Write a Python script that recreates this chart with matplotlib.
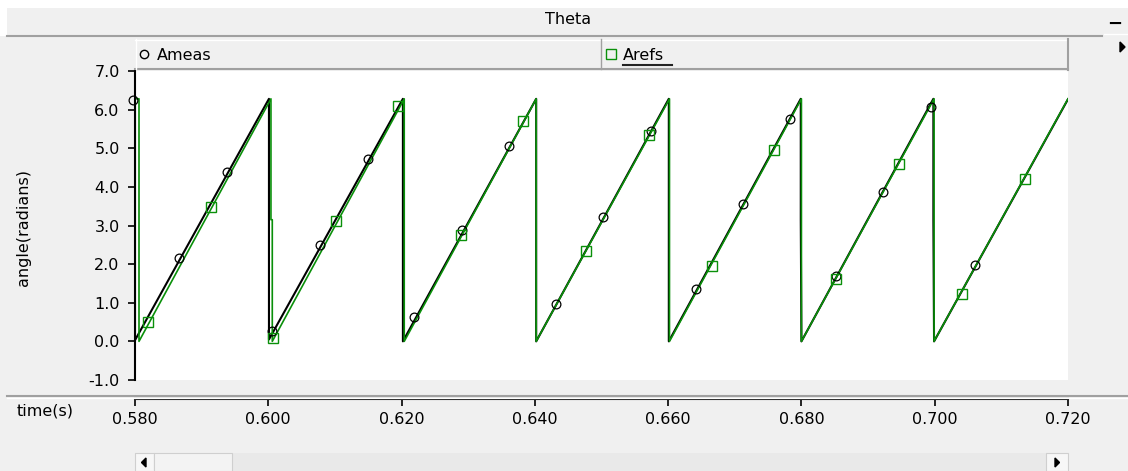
import numpy as np
import matplotlib.pyplot as plt
from matplotlib.patches import Rectangle, Polygon
from matplotlib.lines import Line2D

plt.rcParams['font.family'] = 'DejaVu Sans'
plt.rcParams['axes.unicode_minus'] = False

# sawtooth vertices (time in s, angle in rad)
ameas_t = [0.5797, 0.5800, 0.5800, 0.6001, 0.6001, 0.6202, 0.6202, 0.6402, 0.6402,
           0.6601, 0.6601, 0.6799, 0.6799, 0.6800, 0.6998, 0.6998, 0.6999, 0.7200]
ameas_v = [6.25, 6.26, 0.03, 6.28, 0.05, 6.28, 0.00, 6.28, 0.00,
           6.28, 0.00, 6.28, 3.15, 0.00, 6.28, 3.15, 0.00, 6.27]

arefs_t = [0.5800, 0.5806, 0.5806, 0.6004, 0.6004, 0.6006, 0.6006, 0.6204, 0.6204,
           0.6402, 0.6402, 0.6602, 0.6602, 0.6800, 0.6800, 0.6999, 0.6999, 0.7200]
arefs_v = [6.28, 6.28, 0.00, 6.28, 3.15, 3.15, 0.00, 6.28, 0.00,
           6.28, 0.00, 6.28, 0.00, 6.28, 0.00, 6.28, 0.00, 6.28]

# marker positions on each trace
ameas_mk_t = [0.5797, 0.5866, 0.5938, 0.6006, 0.6078, 0.6150, 0.6219, 0.6291, 0.6361,
              0.6432, 0.6502, 0.6574, 0.6642, 0.6712, 0.6783, 0.6852, 0.6922, 0.6994, 0.7061]
ameas_mk_v = [6.24, 2.15, 4.38, 0.26, 2.49, 4.72, 0.62, 2.88, 5.05,
              0.98, 3.21, 5.44, 1.35, 3.55, 5.75, 1.68, 3.86, 6.06, 1.99]

arefs_mk_t = [0.58195, 0.5914, 0.6007, 0.61015, 0.61945, 0.6289, 0.6382, 0.64765,
              0.6571, 0.66655, 0.67585, 0.68515, 0.6946, 0.70405, 0.7135]
arefs_mk_v = [0.49, 3.47, 0.10, 3.11, 6.09, 2.75, 5.70, 2.33,
              5.34, 1.94, 4.95, 1.61, 4.59, 1.22, 4.20]

x_ticks = [0.580, 0.600, 0.620, 0.640, 0.660, 0.680, 0.700, 0.720]
y_ticks = [-1.0, 0.0, 1.0, 2.0, 3.0, 4.0, 5.0, 6.0, 7.0]

W, H = 1128, 471
BG = '#f0f0f0'
GREEN = '#0a900a'
FS = 11.5


def fx(x):
    return x / W


def fy(y):
    return 1 - y / H


def box(x0, y0, x1, y1, **kw):
    fig.patches.append(Rectangle((fx(x0), fy(y1)), fx(x1) - fx(x0), fy(y0) - fy(y1),
                                 transform=fig.transFigure, **kw))


def hline(x0, x1, y, color, lw=1.0):
    fig.lines.append(Line2D([fx(x0), fx(x1)], [fy(y), fy(y)], transform=fig.transFigure,
                            color=color, lw=lw))


def vline(x, y0, y1, color, lw=1.0):
    fig.lines.append(Line2D([fx(x), fx(x)], [fy(y0), fy(y1)], transform=fig.transFigure,
                            color=color, lw=lw))


fig = plt.figure(figsize=(W / 100, H / 100), dpi=100, facecolor=BG)

# title strip
box(0, 0, W, 8, facecolor='white', edgecolor='none')
box(0, 0, 7, 36, facecolor='white', edgecolor='none')
hline(7, 1102, 35.5, '#a0a0a0', 1.5)
hline(1104, W, 34, 'white', 1.0)
fig.text(fx(568), fy(20), 'Theta', ha='center', va='center', fontsize=FS)
fig.text(fx(1115), fy(24), '\u2212', ha='center', va='center', fontsize=13, fontweight='bold')

# legend strip
box(135, 39, 1067, 69, facecolor=BG, edgecolor='none')
hline(135, 1067, 39.5, 'white', 1.0)
hline(135, 1068, 69, '#a0a0a0', 1.5)
vline(1067.5, 39, 70, '#a0a0a0', 1.5)
vline(135.5, 39, 69, 'white', 1.0)
vline(600.5, 39, 69, '#a0a0a0', 1.0)
fig.lines.append(Line2D([fx(144)], [fy(54)], transform=fig.transFigure, marker='o',
                        ms=6, mfc='none', mec='black', mew=1.0))
fig.text(fx(157), fy(55), 'Ameas', ha='left', va='center', fontsize=FS)
fig.lines.append(Line2D([fx(611)], [fy(54)], transform=fig.transFigure, marker='s',
                        ms=6.5, mfc='none', mec=GREEN, mew=1.0))
fig.text(fx(623), fy(55), 'Arefs', ha='left', va='center', fontsize=FS)
hline(623, 672, 64.5, '#222222', 1.5)
fig.patches.append(Polygon([[fx(1120), fy(42)], [fx(1120), fy(52)], [fx(1125), fy(47)]],
                           closed=True, transform=fig.transFigure, color='black'))

# plot area
ax = fig.add_axes([fx(135), fy(380), fx(1068) - fx(135), fy(71) - fy(380)])
ax.set_facecolor('white')
ax.plot(ameas_t, ameas_v, color='black', lw=1.5)
ax.plot(arefs_t, arefs_v, color=GREEN, lw=1.2)
ax.plot(ameas_mk_t, ameas_mk_v, ls='none', marker='o', ms=6.3, mfc='none',
        mec='black', mew=0.9, clip_on=False)
ax.plot(arefs_mk_t, arefs_mk_v, ls='none', marker='s', ms=6.5, mfc='none',
        mec=GREEN, mew=1.0, clip_on=False)
ax.set_xlim(0.58, 0.72)
ax.set_ylim(-1.0, 7.0)
ax.set_yticks(y_ticks)
ax.set_yticklabels([f'{v:.1f}' for v in y_ticks])
ax.tick_params(axis='y', direction='out', length=5, width=1.2, pad=6, labelsize=FS)
ax.set_xticks([])
for s in ['top', 'right', 'bottom']:
    ax.spines[s].set_visible(False)
ax.spines['left'].set_linewidth(1.5)
fig.text(fx(23), fy(227), 'angle(radians)', rotation=90, ha='center', va='center',
         fontsize=FS)

# time axis strip
hline(7, W, 396, '#a0a0a0', 1.5)
hline(7, W, 397.5, 'white', 1.0)
tax = fig.add_axes([fx(135), fy(399), fx(1068) - fx(135), 0.0001])
tax.set_facecolor('none')
tax.set_xlim(0.58, 0.72)
tax.set_xticks(x_ticks)
tax.set_xticklabels([f'{v:.3f}' for v in x_ticks])
tax.tick_params(axis='x', direction='out', length=5, width=1.2, pad=4, labelsize=FS)
tax.set_yticks([])
for s in ['top', 'right', 'left']:
    tax.spines[s].set_visible(False)
tax.spines['bottom'].set_linewidth(1.5)
fig.text(fx(17), fy(411), 'time(s)', ha='left', va='center', fontsize=FS)

# scroll bar
box(135, 453, 1068, H, facecolor='#e9e9e9', edgecolor='none')
box(135, 453, 154, H, facecolor='#f7f7f7', edgecolor='#cfcfcf', lw=0.8)
box(154, 453, 232, H, facecolor='#f3f3f3', edgecolor='#cfcfcf', lw=0.8)
box(1046, 453, 1068, H, facecolor='#f7f7f7', edgecolor='#cfcfcf', lw=0.8)
fig.patches.append(Polygon([[fx(146), fy(458)], [fx(146), fy(467)], [fx(141.5), fy(462.5)]],
                           closed=True, transform=fig.transFigure, color='black'))
fig.patches.append(Polygon([[fx(1055), fy(458)], [fx(1055), fy(467)], [fx(1059.5), fy(462.5)]],
                           closed=True, transform=fig.transFigure, color='black'))

fig.savefig('out.png', dpi=100, facecolor=BG)
